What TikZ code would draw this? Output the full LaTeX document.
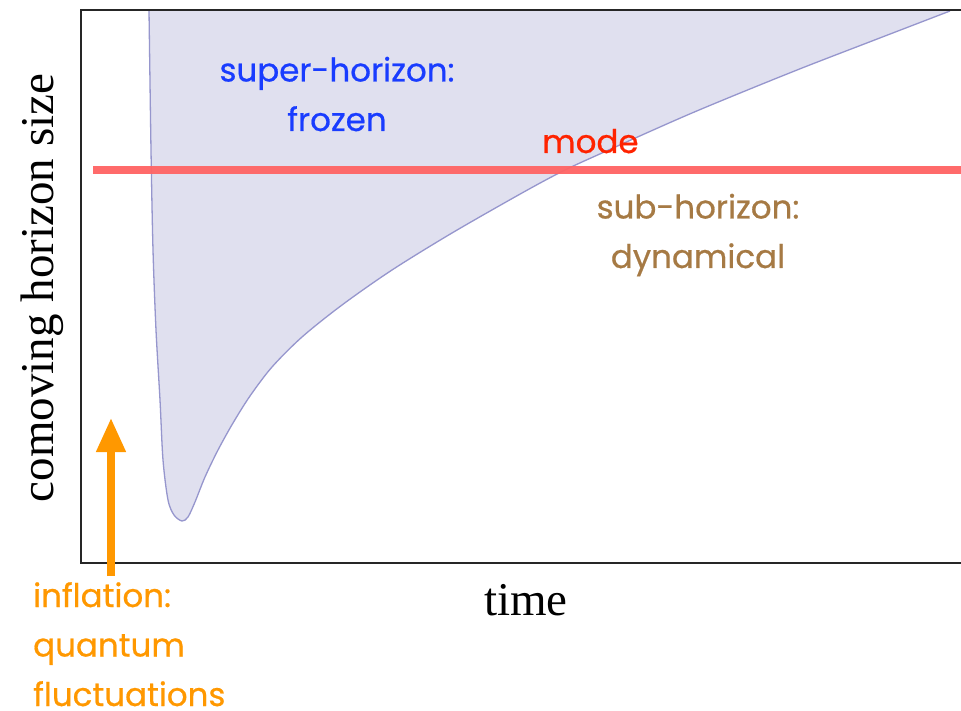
\documentclass[tikz,border=0pt]{standalone}
\usepackage{fontspec}
\usetikzlibrary{arrows.meta}
\newfontfamily\lblfont{Poppins}[FakeBold=0.6]
\newfontfamily\axfont{Liberation Serif}
\definecolor{blueT}{RGB}{25,60,255}
\definecolor{redT}{RGB}{255,35,0}
\definecolor{brownT}{RGB}{166,122,68}
\definecolor{orangeT}{RGB}{255,152,0}
\definecolor{lavfill}{RGB}{224,224,239}
\definecolor{lavline}{RGB}{150,150,205}
\definecolor{modeline}{RGB}{255,100,100}
\tikzset{
  lbl/.style={font=\lblfont\fontsize{32.5}{49.5}\selectfont, inner sep=0pt, align=center},
  axlbl/.style={font=\axfont\fontsize{47}{50}\selectfont, inner sep=0pt, text=black},
  frameline/.style={line width=2.6pt, draw=black!85},
}
\def\horizonpts{(149,10) (151,150) (153,250) (156,330) (160,400) (163,460) (168,500) (174,515) (182,521) (188,517) (195,502) (205,477) (218,450) (233,423) (250,396) (272,367) (302,337) (342,305) (392,270) (452,233) (522,193) (563,171) (602,153) (692,113) (792,72) (872,41) (950,11)}
\begin{document}
\begin{tikzpicture}[x=1pt,y=-1pt]
\useasboundingbox (0,0) rectangle (961,711);
\fill[white] (0,0) rectangle (961,711);
% horizon region
\fill[lavfill] plot[smooth] coordinates {\horizonpts} -- cycle;
\draw[lavline, line width=1.3pt] plot[smooth] coordinates {\horizonpts};
% frame
\coordinate (tl) at (81,10);
\coordinate (tr) at (961,10);
\coordinate (bl) at (81,563);
\coordinate (br) at (961,563);
\draw[frameline] (tr) -- (tl) -- (bl) -- (br);
% mode line
\coordinate (m1) at (93,170);
\coordinate (m2) at (961,170);
\draw[modeline, line width=7.5pt, opacity=0.95] (m1) -- (m2);
% texts
\node[lbl, text=blueT, anchor=base] (super) at (337,131) {super-horizon:\\frozen};
\node[lbl, text=redT, anchor=base west] (mode) at (542,153) {mode};
\node[lbl, text=brownT, anchor=base] (sub) at (698,268) {sub-horizon:\\dynamical};
\node[lbl, text=orangeT, anchor=base west, align=left] (infl) at (33,706) {inflation:\\quantum\\fluctuations};
\node[axlbl, rotate=90, anchor=base] (ylab) at (53,288) {comoving horizon size};
\node[axlbl, anchor=base] (xlab) at (526,615) {time};
% arrow
\coordinate (a1) at (111,576);
\coordinate (a2) at (111,418);
\draw[orangeT, line width=7.5pt, -{Triangle[width=28pt,length=34pt]}] (a1) -- (a2);
\end{tikzpicture}
\end{document}
